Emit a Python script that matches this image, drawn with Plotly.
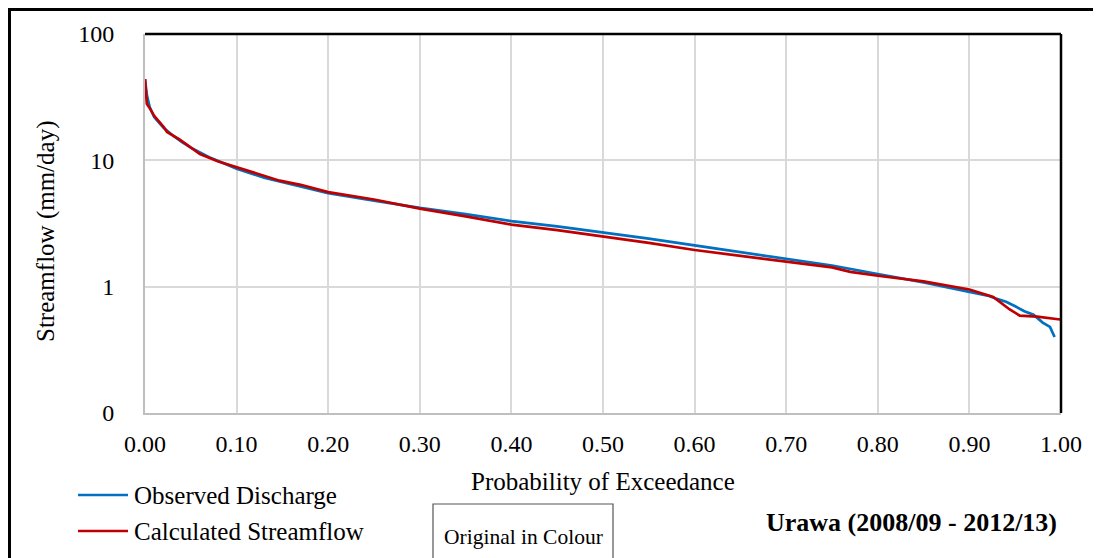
import plotly.graph_objects as go

# Observed discharge (blue) flow duration curve
obs_p = [0.0, 0.002, 0.005, 0.01, 0.02, 0.03, 0.04, 0.05, 0.07, 0.10, 0.13, 0.16, 0.20, 0.25,
         0.30, 0.35, 0.40, 0.45, 0.50, 0.55, 0.60, 0.65, 0.70, 0.75, 0.80, 0.85, 0.90, 0.92,
         0.93, 0.94, 0.95, 0.96, 0.97, 0.98, 0.988, 0.993]
obs_q = [44.0, 33.0, 26.5, 22.0, 18.2, 15.8, 14.0, 12.6, 10.6, 8.6, 7.3, 6.5, 5.5, 4.8,
         4.2, 3.75, 3.3, 3.0, 2.7, 2.4, 2.12, 1.88, 1.67, 1.47, 1.26, 1.08, 0.91, 0.85,
         0.80, 0.76, 0.70, 0.64, 0.60, 0.52, 0.48, 0.40]

# Calculated streamflow (red) flow duration curve
calc_p = [0.0, 0.002, 0.005, 0.01, 0.02, 0.024, 0.038, 0.05, 0.06, 0.08, 0.10, 0.147, 0.17,
          0.20, 0.25, 0.30, 0.35, 0.40, 0.45, 0.50, 0.55, 0.60, 0.65, 0.70, 0.75, 0.77, 0.80,
          0.85, 0.90, 0.926, 0.935, 0.944, 0.955, 0.974, 0.999]
calc_q = [44.0, 28.0, 26.0, 22.5, 18.5, 16.8, 14.6, 12.6, 11.2, 9.8, 8.8, 6.9, 6.4,
          5.6, 4.9, 4.15, 3.6, 3.1, 2.8, 2.5, 2.22, 1.95, 1.76, 1.58, 1.42, 1.31, 1.22,
          1.10, 0.95, 0.83, 0.74, 0.66, 0.59, 0.58, 0.55]

x_ticks = [0.0, 0.1, 0.2, 0.3, 0.4, 0.5, 0.6, 0.7, 0.8, 0.9, 1.0]
y_tickvals = [0.1, 1, 10, 100]
y_ticktext = ["0", "1", "10", "100"]

series_names = ["Observed Discharge", "Calculated Streamflow"]
series_colors = ["#0070c0", "#c00000"]

FONT = "Liberation Serif, Times New Roman, serif"

fig = go.Figure()
fig.add_trace(go.Scatter(x=obs_p, y=obs_q, mode="lines", name=series_names[0],
                         line=dict(color=series_colors[0], width=2.7), showlegend=False))
fig.add_trace(go.Scatter(x=calc_p, y=calc_q, mode="lines", name=series_names[1],
                         line=dict(color=series_colors[1], width=2.7), showlegend=False))

# page is rendered with an 8px body margin; work in page pixels and shift
OFF = 8
W, H = 1101, 558
PL, PR, PT, PB = 145, 1061, 34, 413  # plot box in page pixels
L, T = PL - OFF, PT - OFF
R = W - (PR - OFF)
B = H - (PB - OFF)
pw, ph = PR - PL, PB - PT


def px(x):
    return (x - PL) / pw


def py(y):
    return (PB - y) / ph


shapes = [
    # outer frame
    dict(type="rect", xref="paper", yref="paper", x0=px(9.5), x1=px(1120), y0=py(580), y1=py(9.5),
         line=dict(color="black", width=3), layer="above"),
    # top and right plot borders in black
    dict(type="line", xref="paper", yref="paper", x0=0, x1=1, y0=1, y1=1,
         line=dict(color="black", width=2.5)),
    dict(type="line", xref="paper", yref="paper", x0=1, x1=1, y0=0, y1=1,
         line=dict(color="black", width=2.5)),
    # "Original in Colour" box
    dict(type="rect", xref="paper", yref="paper", x0=px(433), x1=px(613), y0=py(585), y1=py(504),
         line=dict(color="#555555", width=1.2)),
]


def label(text, x, y, size, xanchor="center", angle=0):
    return dict(text=text, x=px(x), y=py(y), xref="paper", yref="paper",
                xanchor=xanchor, yanchor="middle", showarrow=False, textangle=angle,
                font=dict(family=FONT, size=size, color="black"))


annotations = [
    label("Original in Colour", 523, 537, 21.5),
    label("<b>Urawa (2008/09 - 2012/13)</b>", 911, 522, 26),
    label("Probability of Exceedance", 603, 481, 25),
    label("Streamflow (mm/day)", 46, 232, 25, angle=-90),
]

# manual legend
leg_y = [495, 531]
for name, color, yy in zip(series_names, series_colors, leg_y):
    shapes.append(dict(type="line", xref="paper", yref="paper", x0=px(78), x1=px(128),
                       y0=py(yy), y1=py(yy), line=dict(color=color, width=2.5)))
    annotations.append(label(name, 132, yy, 25, xanchor="left"))

fig.update_layout(
    width=W, height=H,
    margin=dict(l=L, r=R, t=T, b=B),
    paper_bgcolor="white", plot_bgcolor="white",
    font=dict(family=FONT, size=24, color="black"),
    shapes=shapes, annotations=annotations,
    xaxis=dict(range=[0, 1], tickvals=x_ticks, tickformat=".2f",
               showgrid=True, gridcolor="#d9d9d9", gridwidth=2,
               showline=True, linecolor="#bfbfbf", linewidth=2,
               ticks="", zeroline=False, ticklabelstandoff=8,
               tickfont=dict(family=FONT, size=24)),
    yaxis=dict(type="log", range=[-1, 2], tickvals=y_tickvals, ticktext=y_ticktext,
               showgrid=True, gridcolor="#d9d9d9", gridwidth=2,
               showline=True, linecolor="#bfbfbf", linewidth=2,
               ticks="", zeroline=False, ticklabelstandoff=24,
               tickfont=dict(family=FONT, size=24)),
)

fig.write_html("out.html")
